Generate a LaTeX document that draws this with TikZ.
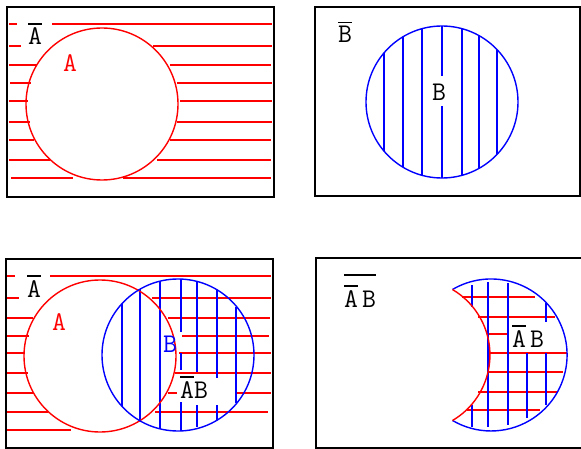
\documentclass[tikz,border=0pt]{standalone}
\usepackage{fontspec}
\definecolor{SetRed}{HTML}{FF0000}
\definecolor{SetBlue}{HTML}{0000FF}
\newcommand{\barA}{\leavevmode\vbox{\hrule height 1.3pt\kern 3.5pt\hbox{A}}}
\tikzset{
  vnframe/.style={draw=black, line width=1.6pt},
  vnred/.style={draw=SetRed, line width=1.4pt},
  vnblue/.style={draw=SetBlue, line width=1.4pt},
  vnbluethick/.style={draw=SetBlue, line width=1.9pt},
  vnlabel/.style={anchor=base, inner sep=0pt, font=\ttfamily\fontsize{27}{31}\selectfont}
}

\begin{document}
\begin{tikzpicture}[x=1pt,y=-1pt]
  \useasboundingbox (0,0) rectangle (581,449);
  % panel 1: not A
  \draw[vnframe] (7,7) rectangle (274,197);
  \foreach \y/\a/\b/\c/\d in {24/9/17/52/272,46/9/21/153/272,65/9/37/170/271,
      83/10/31/177/272,101/9/28/180/272,122/9/30/177/272,140/9/34/170/271,
      160/9/50/157/271,178/11/73/123/271} {
    \draw[vnred] (\a,\y) -- (\b,\y);
    \draw[vnred] (\c,\y) -- (\d,\y);
  }
  \draw[vnred] (102,104) circle[radius=76];
  \node[vnlabel] (p1notA) at (35,45) {\barA};
  \node[vnlabel, text=SetRed] (p1A) at (70,72) {A};
  % panel 2: not B
  \draw[vnframe] (315,7) rectangle (580,196);
  \foreach \x/\a/\b in {384/53/151,403/37/167,422/29/175,442/26/76,442/106/178,
      462/29/175,479/36/168,497/50/154} {
    \draw[vnblue] (\x,\a) -- (\x,\b);
  }
  \draw[vnblue] (442,102) circle[radius=76];
  \node[vnlabel] (p2notB) at (345,43) {\leavevmode\vbox{\hrule height 1.3pt\kern 3.5pt\hbox{B}}};
  \node[vnlabel] (p2B) at (439,101) {B};
  % panel 3: not A and B
  \draw[vnframe] (6,259) rectangle (273,448);
  \foreach \y/\a/\b in {276/7/15,276/50/271,298/7/19,298/152/271,318/7/33,318/168/270,
      336/7/29,336/182/269,353/7/25,353/179/271,373/7/28,373/175/271,
      393/7/33,393/168/177,393/235/271,412/7/48,412/155/268,430/7/71} {
    \draw[vnred] (\a,\y) -- (\b,\y);
  }
  \foreach \x/\a/\b in {122/304/406,160/281/429,181/279/332,181/353/370,181/402/430,
      197/282/372,197/405/427,217/290/378,217/405/420,236/307/403} {
    \draw[vnblue] (\x,\a) -- (\x,\b);
  }
  \draw[vnbluethick] (140,289) -- (140,421);
  \draw[vnred] (100,356) circle[radius=76];
  \draw[vnblue] (178,355) circle[radius=76];
  \node[vnlabel] (p3notA) at (34,297) {\barA};
  \node[vnlabel, text=SetRed] (p3A) at (59,330) {A};
  \node[vnlabel, text=SetBlue] (p3B) at (170,352) {B};
  \node[vnlabel] (p3notAB) at (194,398) {\barA B};
  % panel 4: only the not-A part of B
  \draw[vnframe] (584,258) -- (316,258) -- (316,448) -- (584,448);
  \foreach \y/\a/\b in {297/462/535,317/478/555,334/487/507,353/490/567,
      372/488/563,392/478/557,410/467/540} {
    \draw[vnred] (\a,\y) -- (\b,\y);
  }
  \foreach \x/\a/\b in {472/285/307,472/405/427,508/283/425,527/353/418,
      546/303/322,546/353/405} {
    \draw[vnblue] (\x,\a) -- (\x,\b);
  }
  \draw[vnbluethick] (488,282) -- (488,427);
  \draw[vnblue] (452.5,289.5) arc[start angle=239.5, end angle=480.5, radius=76];
  \draw[vnred] (452.5,420.5) arc[start angle=59.5, end angle=-59.5, radius=76];
  \node[vnlabel] (p4title) at (360,307) {\barA\hspace{4pt}B};
  \draw[line width=1.3pt] ([yshift=10pt]p4title.north west) -- ([yshift=10pt]p4title.north east);
  \node[vnlabel] (p4notAB) at (528,347) {\barA\hspace{4pt}B};
\end{tikzpicture}
\end{document}
